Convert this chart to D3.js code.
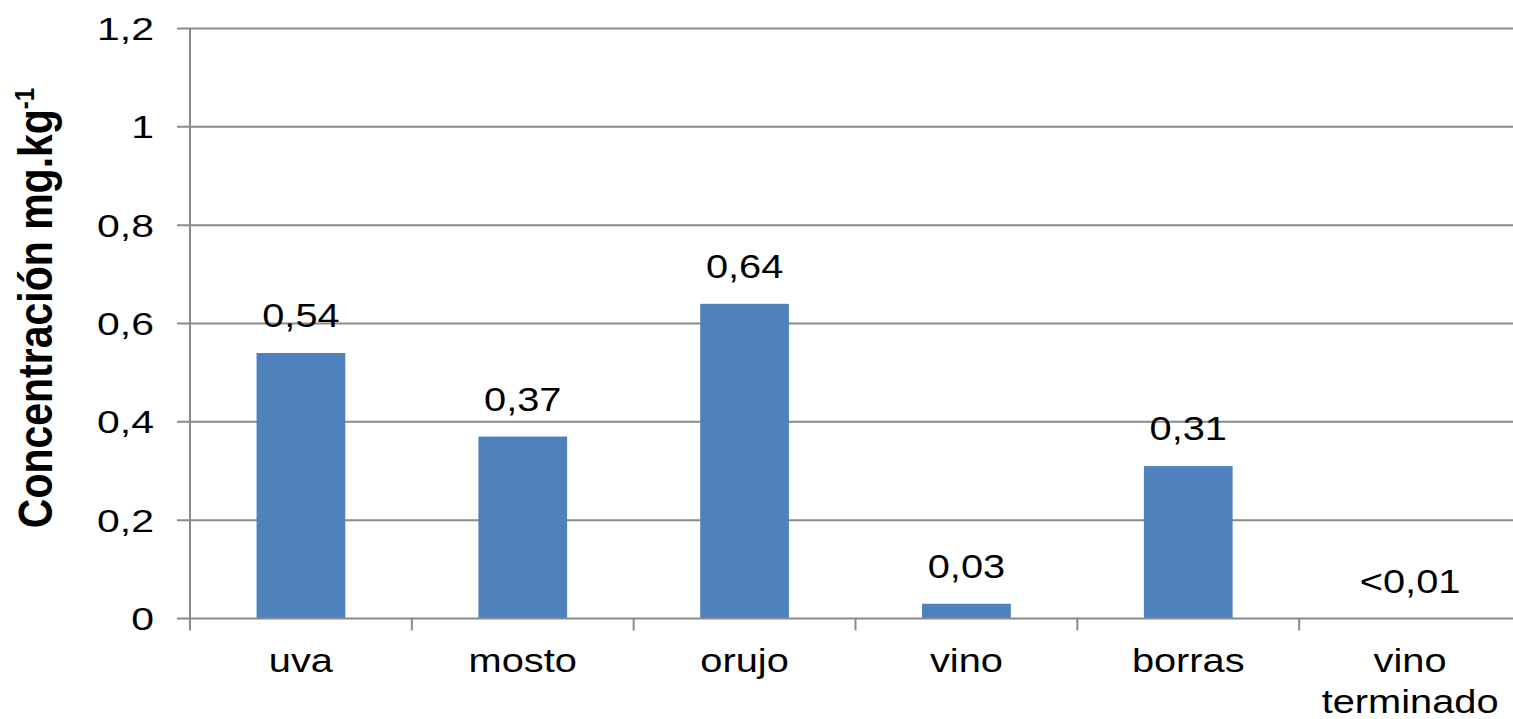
<!DOCTYPE html>
<html>
<head>
<meta charset="utf-8">
<script src="https://cdn.jsdelivr.net/npm/d3@7"></script>
<style>
  html, body { margin: 0; padding: 0; background: #fff; overflow: hidden; }
  svg { display: block; }
  text { font-family: "Liberation Sans", Arial, sans-serif; fill: #000; }
</style>
</head>
<body>
<svg id="chart" width="1513" height="719"></svg>
<script>
// Concentration per stage of winemaking (mg/kg)
const categories = [["uva"], ["mosto"], ["orujo"], ["vino"], ["borras"], ["vino", "terminado"]];
const values = [0.54, 0.37, 0.64, 0.03, 0.31, 0];
const valueLabels = ["0,54", "0,37", "0,64", "0,03", "0,31", "<0,01"];
const yTicks = [0, 0.2, 0.4, 0.6, 0.8, 1, 1.2];
const yTickLabels = ["0", "0,2", "0,4", "0,6", "0,8", "1", "1,2"];

const svg = d3.select("#chart");
const plotLeft = 190, plotRight = 1521, plotTop = 28.5, plotBottom = 618.5;
const gridColor = "#8a8a8a";
const barColor = "#4f81bd";

const x = d3.scaleBand()
  .domain(d3.range(categories.length))
  .range([plotLeft, plotRight])
  .paddingInner(0.6)
  .paddingOuter(0.3);

const y = d3.scaleLinear().domain([0, 1.2]).range([plotBottom, plotTop]);

// horizontal gridlines
svg.append("g")
  .selectAll("line")
  .data(yTicks.filter(d => d > 0))
  .join("line")
  .attr("x1", plotLeft - 13).attr("x2", 1513)
  .attr("y1", d => y(d)).attr("y2", d => y(d))
  .attr("stroke", gridColor).attr("stroke-width", 2);

// y axis line
svg.append("line")
  .attr("x1", plotLeft).attr("x2", plotLeft)
  .attr("y1", plotTop).attr("y2", plotBottom + 1)
  .attr("stroke", gridColor).attr("stroke-width", 2);

// y tick labels
svg.append("g")
  .selectAll("text")
  .data(yTicks)
  .join("text")
  .attr("transform", d => `translate(${plotLeft - 36},${y(d) + 11.5}) scale(1.28,1)`)
  .attr("text-anchor", "end")
  .style("font-size", "32px")
  .text((d, i) => yTickLabels[i]);

// bars
svg.append("g")
  .selectAll("rect")
  .data(values)
  .join("rect")
  .attr("x", (d, i) => x(i))
  .attr("width", x.bandwidth())
  .attr("y", d => y(d))
  .attr("height", d => plotBottom - y(d))
  .attr("fill", barColor);

// x axis line and category separators
svg.append("line")
  .attr("x1", plotLeft - 13).attr("x2", 1513)
  .attr("y1", plotBottom).attr("y2", plotBottom)
  .attr("stroke", gridColor).attr("stroke-width", 2);

const step = x.step();
svg.append("g")
  .selectAll("line")
  .data(d3.range(categories.length + 1))
  .join("line")
  .attr("x1", i => plotLeft + i * step).attr("x2", i => plotLeft + i * step)
  .attr("y1", plotBottom).attr("y2", plotBottom + 12)
  .attr("stroke", gridColor).attr("stroke-width", 2);

// value labels
svg.append("g")
  .selectAll("text")
  .data(values)
  .join("text")
  .attr("transform", (d, i) => `translate(${x(i) + x.bandwidth() / 2},${y(d) - 26}) scale(1.17,1)`)
  .attr("text-anchor", "middle")
  .style("font-size", "34px")
  .text((d, i) => valueLabels[i]);

// category labels
const cat = svg.append("g")
  .selectAll("text")
  .data(categories)
  .join("text")
  .attr("transform", (d, i) => `translate(${x(i) + x.bandwidth() / 2},672) scale(1.17,1)`)
  .attr("text-anchor", "middle")
  .style("font-size", "34px");
cat.selectAll("tspan")
  .data(d => d)
  .join("tspan")
  .attr("x", 0)
  .attr("dy", (d, j) => j === 0 ? 0 : 41)
  .text(d => d);

// y axis title
const title = svg.append("text")
  .attr("transform", "translate(52,308) scale(1.15,1) rotate(-90)")
  .attr("text-anchor", "middle")
  .style("font-size", "41px")
  .style("font-weight", "bold");
title.append("tspan").text("Concentración mg.kg");
title.append("tspan").attr("dy", -16).style("font-size", "24px").text("-1");
</script>
</body>
</html>
